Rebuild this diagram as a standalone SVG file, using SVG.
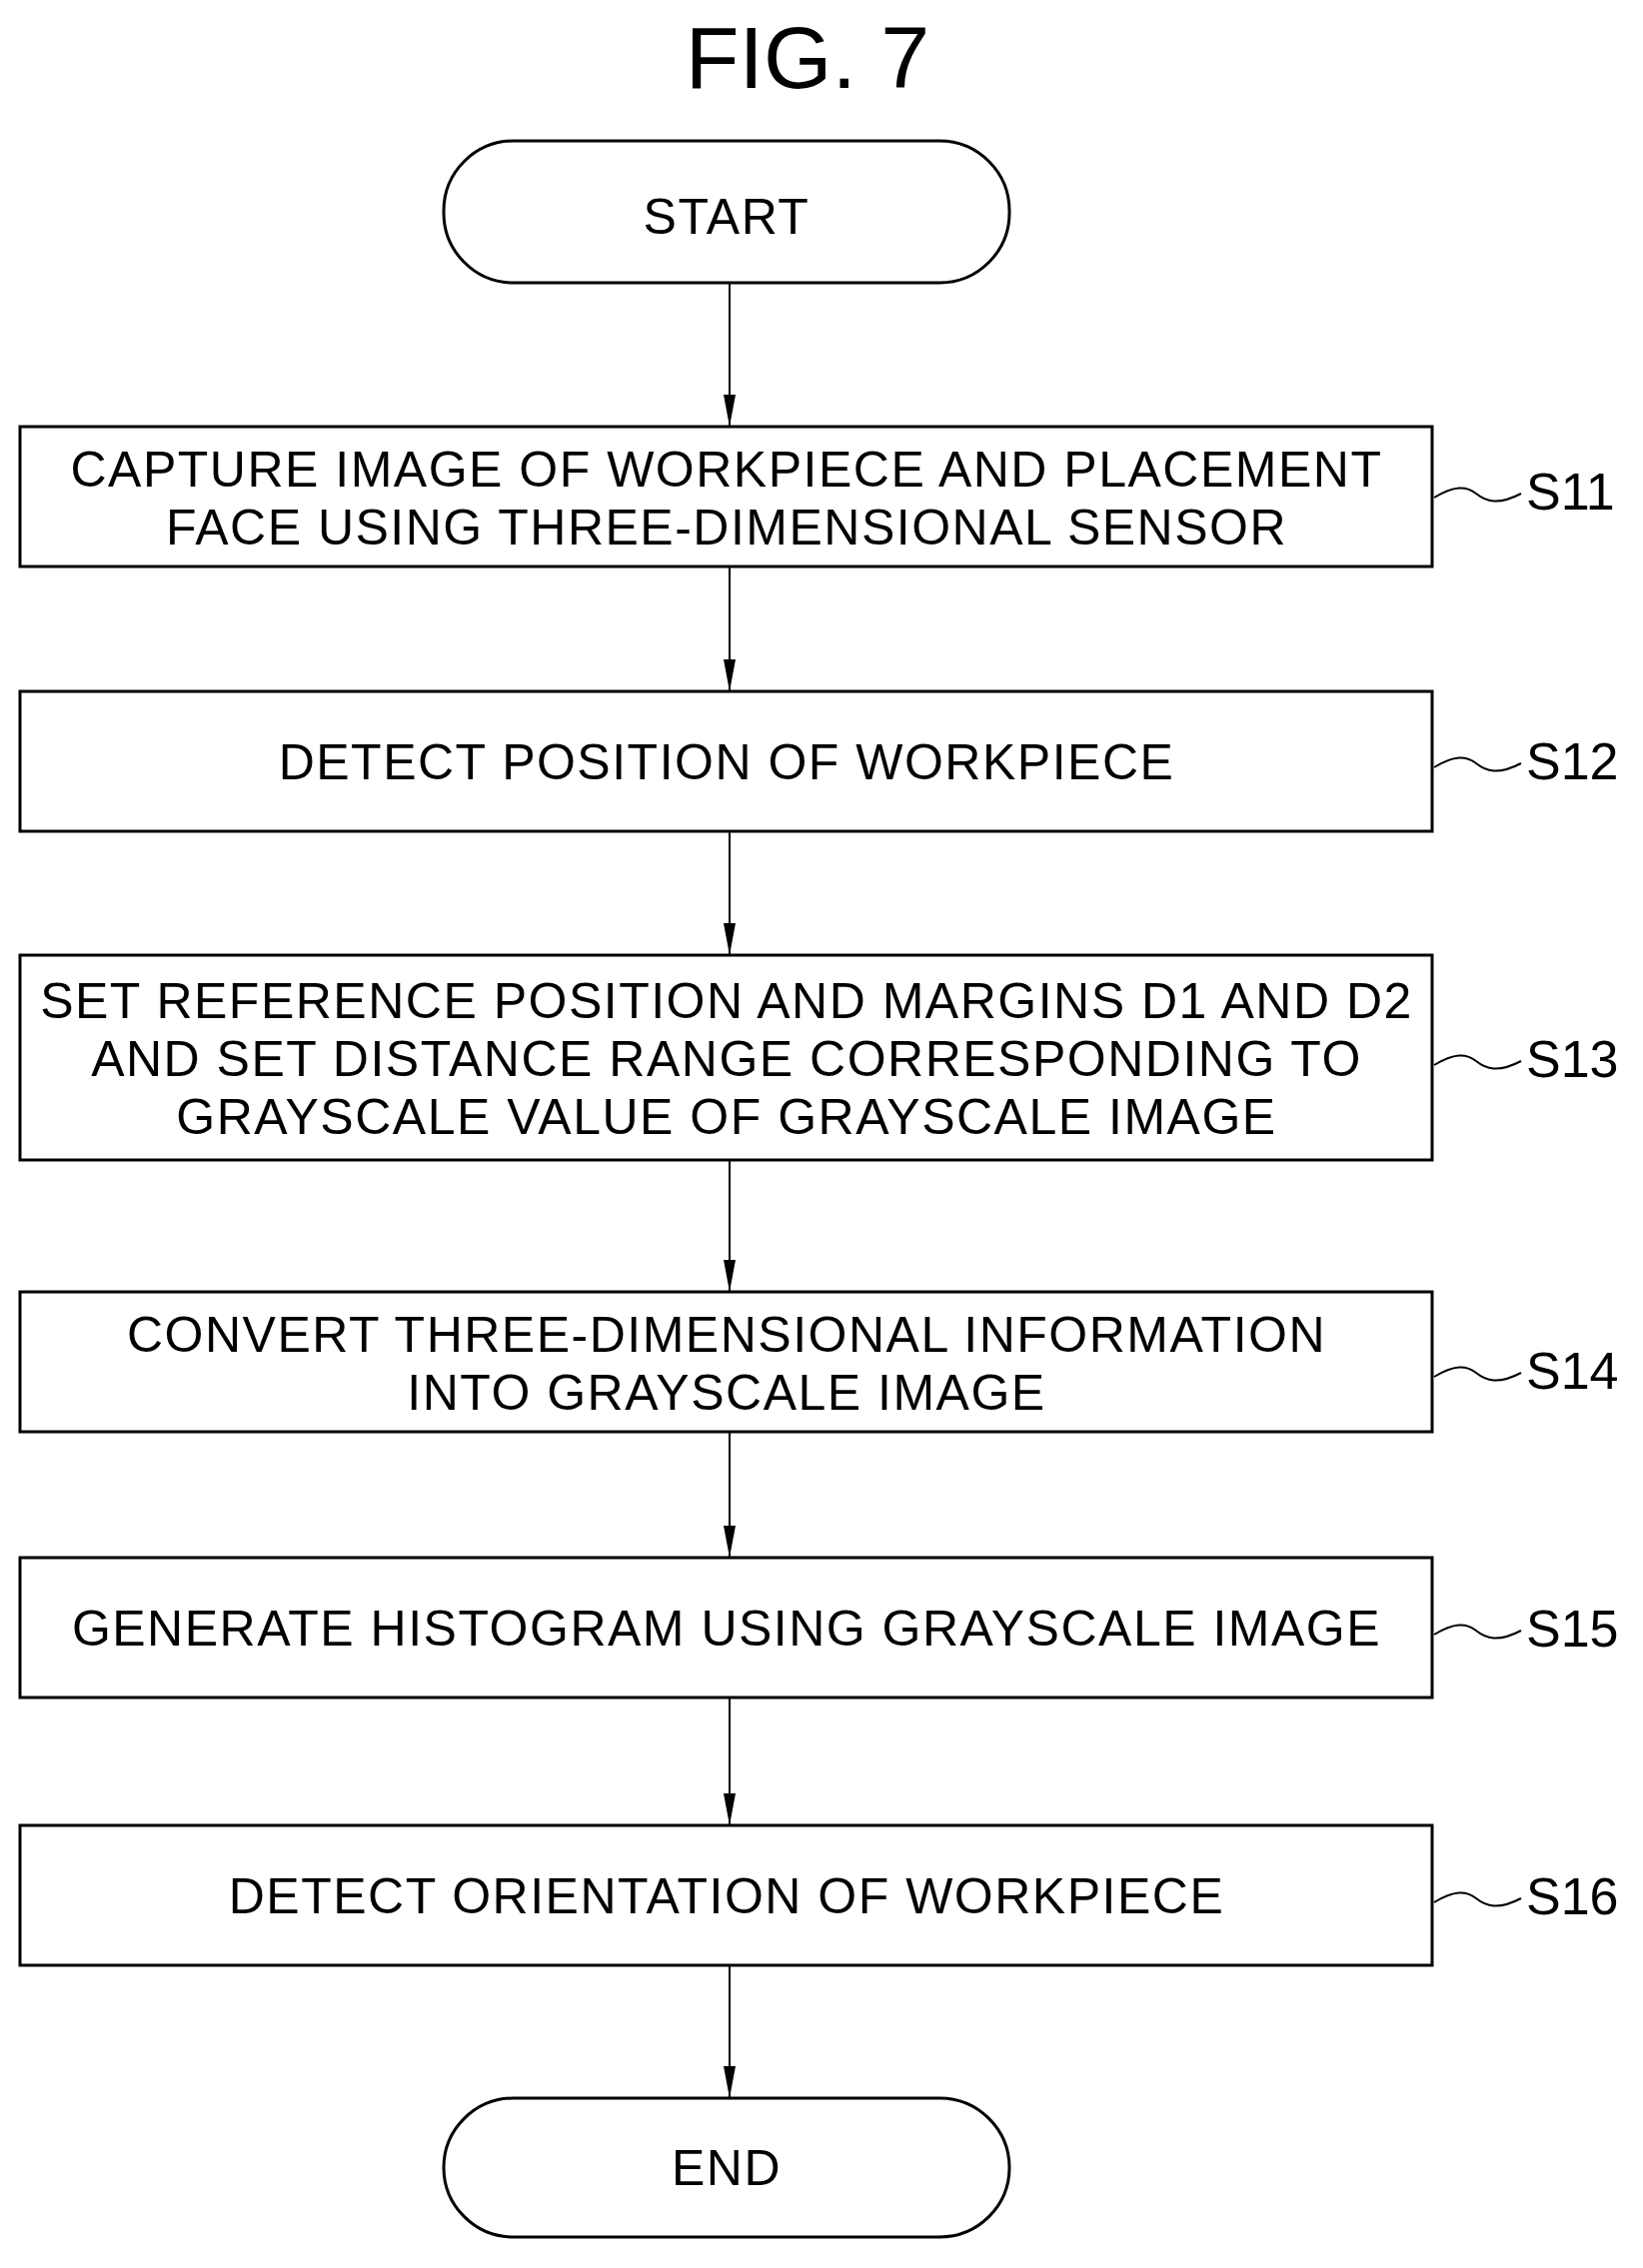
<svg xmlns="http://www.w3.org/2000/svg" width="1644" height="2270" viewBox="0 0 1644 2270">
<style>
.b{fill:#fff;stroke:#000;stroke-width:3}
.t{font-family:"Liberation Sans",Arial,sans-serif;font-size:50px;text-anchor:middle;fill:#000;letter-spacing:1.5px}
.l{font-family:"Liberation Sans",Arial,sans-serif;font-size:52px;fill:#000}
.c{stroke:#000;stroke-width:2;fill:none}
</style>
<defs><marker id="a" markerWidth="34" markerHeight="14" refX="32" refY="7" orient="auto" markerUnits="userSpaceOnUse"><path d="M0,1 L32,7 L0,13Z" fill="#000"/></marker></defs>
<rect width="1644" height="2270" fill="#fff"/>
<text x="808" y="88" style="font-family:'Liberation Sans',Arial,sans-serif;font-size:88px;text-anchor:middle">FIG. 7</text>
<g id="start"><rect class="b" x="444" y="141" width="566" height="142" rx="70"/><text class="t" x="727" y="234">START</text></g>
<g id="s11"><rect class="b" x="20" y="427" width="1413" height="140"/><text class="t" x="727" y="487">CAPTURE IMAGE OF WORKPIECE AND PLACEMENT</text><text class="t" x="727" y="545">FACE USING THREE-DIMENSIONAL SENSOR</text><text class="l" x="1527" y="510">S11</text></g>
<g id="s12"><rect class="b" x="20" y="692" width="1413" height="140"/><text class="t" x="727" y="780">DETECT POSITION OF WORKPIECE</text><text class="l" x="1527" y="780">S12</text></g>
<g id="s13"><rect class="b" x="20" y="956" width="1413" height="205"/><text class="t" x="727" y="1019">SET REFERENCE POSITION AND MARGINS D1 AND D2</text><text class="t" x="727" y="1077">AND SET DISTANCE RANGE CORRESPONDING TO</text><text class="t" x="727" y="1135">GRAYSCALE VALUE OF GRAYSCALE IMAGE</text><text class="l" x="1527" y="1078">S13</text></g>
<g id="s14"><rect class="b" x="20" y="1293" width="1413" height="140"/><text class="t" x="727" y="1353">CONVERT THREE-DIMENSIONAL INFORMATION</text><text class="t" x="727" y="1411">INTO GRAYSCALE IMAGE</text><text class="l" x="1527" y="1390">S14</text></g>
<g id="s15"><rect class="b" x="20" y="1559" width="1413" height="140"/><text class="t" x="727" y="1647">GENERATE HISTOGRAM USING GRAYSCALE IMAGE</text><text class="l" x="1527" y="1648">S15</text></g>
<g id="s16"><rect class="b" x="20" y="1827" width="1413" height="140"/><text class="t" x="727" y="1915">DETECT ORIENTATION OF WORKPIECE</text><text class="l" x="1527" y="1916">S16</text></g>
<g id="end"><rect class="b" x="444" y="2100" width="566" height="139" rx="70"/><text class="t" x="727" y="2187">END</text></g>
<g id="connectors">
<path class="c" marker-end="url(#a)" d="M730,283V427"/>
<path class="c" marker-end="url(#a)" d="M730,567V692"/>
<path class="c" marker-end="url(#a)" d="M730,832V956"/>
<path class="c" marker-end="url(#a)" d="M730,1161V1293"/>
<path class="c" marker-end="url(#a)" d="M730,1433V1559"/>
<path class="c" marker-end="url(#a)" d="M730,1699V1827"/>
<path class="c" marker-end="url(#a)" d="M730,1967V2100"/>
<path class="c" d="M1435,498c20,-12 32,-12 42,-4s22,12 45,0"/>
<path class="c" d="M1435,768c20,-12 32,-12 42,-4s22,12 45,0"/>
<path class="c" d="M1435,1066c20,-12 32,-12 42,-4s22,12 45,0"/>
<path class="c" d="M1435,1378c20,-12 32,-12 42,-4s22,12 45,0"/>
<path class="c" d="M1435,1636c20,-12 32,-12 42,-4s22,12 45,0"/>
<path class="c" d="M1435,1904c20,-12 32,-12 42,-4s22,12 45,0"/>
</g>
</svg>
